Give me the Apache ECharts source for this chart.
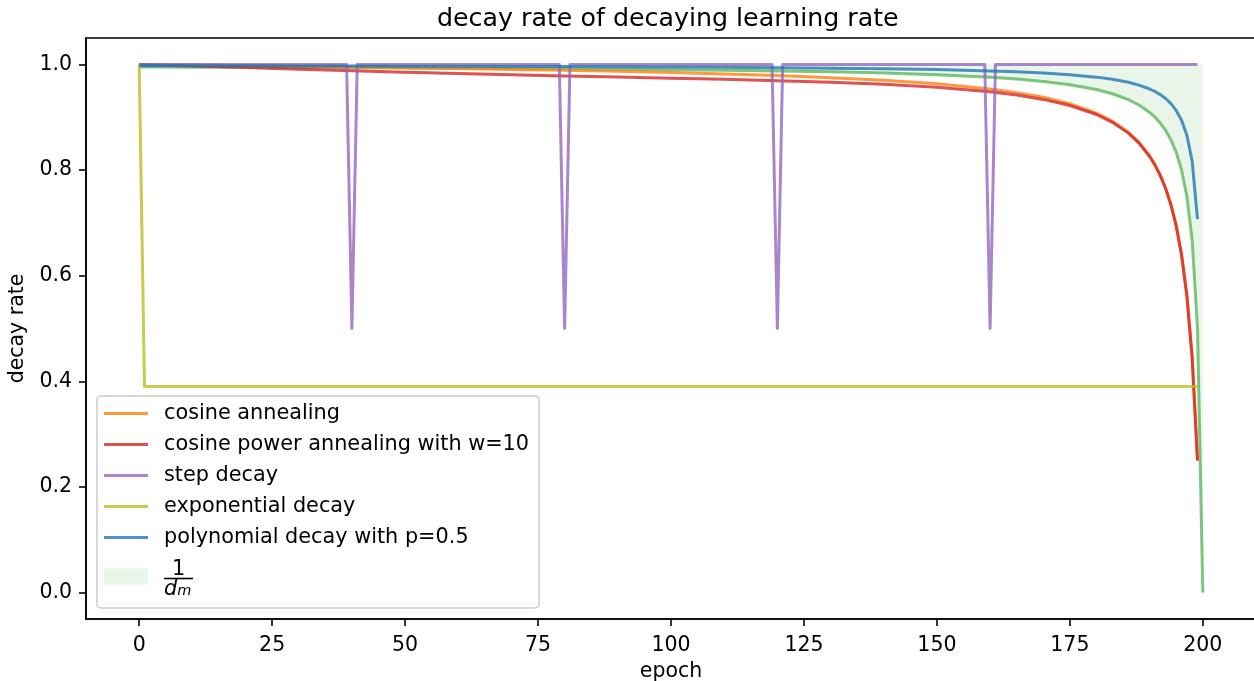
<!DOCTYPE html>
<html><head><meta charset="utf-8">
<script src="https://cdn.jsdelivr.net/npm/echarts@6/dist/echarts.min.js"></script>
<style>html,body{margin:0;padding:0;background:#fff}#c{width:1254px;height:681px}</style>
</head><body><div id="c"></div><script>
// ---- data ----
const xTicks = [0, 25, 50, 75, 100, 125, 150, 175, 200];
const yTicks = [0, 0.2, 0.4, 0.6, 0.8, 1.0];

const curveEpochs = [0,1,5,10,20,30,40,50,60,70,80,90,100,110,120,130,140,150,160,165,170,175,180,183,186,188,190,191,192,193,194,195,196,197,198,199];
const cosineAnnealing = [1,0.99994,0.9995,0.99889,0.99764,0.99636,0.99504,0.99365,0.99216,0.99057,0.98883,0.98684,0.9846,0.98196,0.97883,0.97497,0.96993,0.96324,0.95336,0.9466,0.93767,0.92553,0.9077,0.89256,0.87157,0.85245,0.82675,0.81032,0.79039,0.76585,0.7349,0.69461,0.64011,0.56257,0.44449,0.25];
const cosinePower = [1,0.99984,0.99858,0.99701,0.99392,0.99093,0.98807,0.98537,0.98284,0.98048,0.97826,0.97613,0.97401,0.97178,0.96928,0.96624,0.96226,0.95665,0.94809,0.94197,0.93376,0.92221,0.90514,0.89041,0.8699,0.85093,0.82557,0.80925,0.78945,0.76506,0.73419,0.69406,0.63972,0.56226,0.44435,0.24997];
const polynomial = [0.99751,0.9975,0.99745,0.99738,0.99723,0.99707,0.99689,0.99668,0.99645,0.99618,0.99586,0.99549,0.99504,0.99449,0.99381,0.99293,0.99177,0.99015,0.98773,0.98601,0.98374,0.98058,0.9759,0.97183,0.96609,0.96077,0.95346,0.94868,0.94281,0.93541,0.92582,0.91287,0.89443,0.86603,0.8165,0.70711];

const dmEpochs = [0,1,5,10,20,30,40,50,60,70,80,90,100,110,120,130,140,150,160,165,170,175,180,183,186,188,190,191,192,193,194,195,196,197,198,199,200];
const dmRate = [0.99502,0.995,0.9949,0.99476,0.99448,0.99415,0.99379,0.99338,0.99291,0.99237,0.99174,0.99099,0.9901,0.98901,0.98765,0.98592,0.98361,0.98039,0.97561,0.97222,0.96774,0.96154,0.95238,0.94444,0.93333,0.92308,0.90909,0.9,0.88889,0.875,0.85714,0.83333,0.8,0.75,0.66667,0.5,0];
const dmUpper = 1.0;

const stepEpochs = [0,39,40,41,79,80,81,119,120,121,159,160,161,199];
const stepRate = [1,1,0.5,1,1,0.5,1,1,0.5,1,1,0.5,1,1];

const expEpochs = [0,1,199];
const expRate = [1,0.39,0.39];

const seriesNames = ['cosine annealing','cosine power annealing with w=10','step decay','exponential decay','polynomial decay with p=0.5'];
const DM_NAME = '1/d_m';

// ---- drawing ----
const FONT = 'DejaVu Sans';
const C = {
  orange: 'rgba(255,127,14,0.8)',
  red: 'rgba(214,39,40,0.8)',
  purple: 'rgba(148,103,189,0.8)',
  olive: 'rgba(188,189,34,0.8)',
  blue: 'rgba(31,119,180,0.8)',
  green: 'rgba(44,160,44,0.6)',
  fill: 'rgba(44,160,44,0.11)'
};
const pairs = (xs, ys) => xs.map((x, i) => [x, ys[i]]);
const LINE_ICON = 'path://M0,0h0.01v0.01h-0.01z M0,6.5h44v3h-44z M55,15.99h0.01v0.01h-0.01z';
const PATCH_ICON = 'path://M0,0h44v16h-44z M55,15.99h0.01v0.01h-0.01z';

function lineSeries(name, data, color, z) {
  return {
    name, type: 'line', data, symbol: 'none', z, silent: true,
    lineStyle: { color, width: 3, cap: 'butt', join: 'round' },
    itemStyle: { color }
  };
}

const chart = echarts.init(document.getElementById('c'), null, { renderer: 'canvas' });
chart.setOption({
  animation: false,
  backgroundColor: '#fff',
  title: {
    text: 'decay rate of decaying learning rate',
    left: 437, top: 7, padding: 0,
    textStyle: { fontFamily: FONT, fontSize: 25.3, fontWeight: 'normal', color: '#000' }
  },
  grid: { left: 86, top: 38, width: 1170, height: 581, show: true, borderColor: '#000', borderWidth: 1.6,
          backgroundColor: 'transparent', containLabel: false, outerBoundsMode: 'none' },
  xAxis: {
    type: 'value', min: -10, max: 210,
    name: 'epoch', nameLocation: 'middle', nameGap: 42,
    nameTextStyle: { fontFamily: FONT, fontSize: 20.5, color: '#000' },
    axisLine: { show: true, onZero: false, lineStyle: { color: '#000', width: 1.6 } },
    axisTick: { show: true, inside: false, length: 7, lineStyle: { color: '#000', width: 1.6 }, customValues: xTicks },
    axisLabel: { margin: 16, fontFamily: FONT, fontSize: 20.5, color: '#000', customValues: xTicks },
    splitLine: { show: false }
  },
  yAxis: {
    type: 'value', min: -0.05, max: 1.05,
    name: 'decay rate', nameLocation: 'middle', nameGap: 57, nameRotate: 90,
    nameTextStyle: { fontFamily: FONT, fontSize: 20.5, color: '#000' },
    axisLine: { show: true, onZero: false, lineStyle: { color: '#000', width: 1.6 } },
    axisTick: { show: true, inside: false, length: 7, lineStyle: { color: '#000', width: 1.6 }, customValues: yTicks },
    axisLabel: { margin: 14, fontFamily: FONT, fontSize: 20.5, color: '#000', customValues: yTicks, formatter: v => v.toFixed(1) },
    splitLine: { show: false }
  },
  legend: {
    orient: 'vertical', left: 97, top: 396,
    padding: [7, 10, 8, 7],
    itemWidth: 55, itemHeight: 16, itemGap: 10,
    backgroundColor: 'rgba(255,255,255,0.8)',
    borderColor: '#cccccc', borderWidth: 1.5, borderRadius: 4,
    selectedMode: false,
    data: seriesNames.map(n => ({ name: n, icon: LINE_ICON })).concat([{ name: DM_NAME, icon: PATCH_ICON }]),
    formatter: name => name === DM_NAME ? '{sp| }\n{num|1}\n{bar| }\n{den|d}{sub|m}' : name,
    textStyle: {
      fontFamily: FONT, fontSize: 20.8, color: '#000',
      rich: {
        sp: { fontSize: 1, lineHeight: 8 },
        num: { fontFamily: FONT, fontSize: 20.8, color: '#000', lineHeight: 14, width: 29, align: 'center' },
        bar: { fontSize: 1, lineHeight: 4, width: 29, height: 1.6, backgroundColor: '#000' },
        den: { fontFamily: FONT, fontSize: 20.8, fontStyle: 'italic', color: '#000', lineHeight: 18 },
        sub: { fontFamily: FONT, fontSize: 14.5, fontStyle: 'italic', color: '#000', lineHeight: 18, verticalAlign: 'bottom' }
      }
    }
  },
  series: [
    {
      name: DM_NAME, type: 'custom', silent: true, z: 1,
      data: pairs(dmEpochs, dmRate),
      encode: { x: 0, y: 1 },
      itemStyle: { color: C.fill },
      renderItem: (params, api) => {
        if (params.dataIndex !== 0) return null;
        const lower = dmEpochs.map((x, i) => api.coord([x, dmRate[i]]));
        const upper = [api.coord([dmEpochs[dmEpochs.length - 1], dmUpper]), api.coord([dmEpochs[0], dmUpper])];
        return { type: 'polygon', shape: { points: lower.concat(upper) }, style: { fill: C.fill, stroke: null } };
      }
    },
    lineSeries('dm-line', pairs(dmEpochs, dmRate), C.green, 2),
    lineSeries(seriesNames[0], pairs(curveEpochs, cosineAnnealing), C.orange, 3),
    lineSeries(seriesNames[1], pairs(curveEpochs, cosinePower), C.red, 4),
    lineSeries(seriesNames[2], pairs(stepEpochs, stepRate), C.purple, 5),
    lineSeries(seriesNames[3], pairs(expEpochs, expRate), C.olive, 6),
    lineSeries(seriesNames[4], pairs(curveEpochs, polynomial), C.blue, 7)
  ]
});
</script></body></html>
